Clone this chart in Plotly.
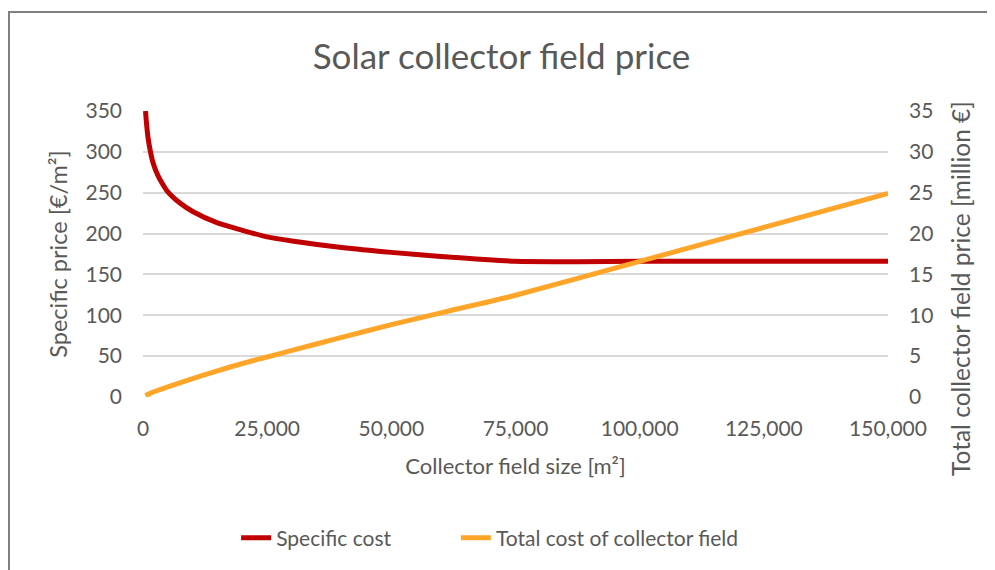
import plotly.graph_objects as go

# collector field size [m²]
size_specific = [500, 750, 1000, 1500, 2000, 3000, 4000, 5000, 7500, 10000, 15000, 20000,
                 25000, 30000, 40000, 50000, 60000, 75000, 100000, 125000, 150000]
specific_cost = [350, 332, 318, 300, 287, 271, 260, 251, 237, 227, 213, 204,
                 196, 191, 183, 177, 172, 166, 166, 166, 166]

size_total = [500, 1000, 2500, 5000, 10000, 15000, 20000, 25000, 30000, 40000, 50000,
              60000, 75000, 100000, 125000, 150000]
total_cost = [0.17, 0.32, 0.7, 1.25, 2.26, 3.2, 4.1, 4.9, 5.7, 7.3, 8.85,
              10.3, 12.45, 16.6, 20.75, 24.9]

x_ticks = [0, 25000, 50000, 75000, 100000, 125000, 150000]

FONT = "Lato"
GREY = "#595959"

fig = go.Figure()
fig.add_trace(go.Scatter(x=size_specific, y=specific_cost, name="Specific cost", mode="lines",
                         legend="legend", showlegend=True,
                         line=dict(color="#C00000", width=5, shape="spline", smoothing=0.6)))
fig.add_trace(go.Scatter(x=size_total, y=total_cost, name="Total cost of collector field",
                         mode="lines", yaxis="y2", legend="legend2", showlegend=True,
                         line=dict(color="#FFA52A", width=5, shape="spline", smoothing=0.6)))

fig.update_layout(
    width=987, height=562,
    showlegend=True,
    margin=dict(l=135, r=107, t=103, b=173),
    paper_bgcolor="white", plot_bgcolor="white",
    font=dict(family=FONT, color=GREY, size=21),
    title=dict(text="Solar collector field price", x=0.5, xanchor="center",
               y=1 - 49 / 562, yanchor="middle", font=dict(size=35, color=GREY)),
    xaxis=dict(range=[0, 150000], tickvals=x_ticks, tickformat=",", showgrid=False,
               zeroline=False, showline=False, ticks="", automargin=False,
               ticklabelstandoff=17,
               title=dict(text="Collector field size [m²]", standoff=19, font=dict(size=22))),
    yaxis=dict(range=[0, 350], dtick=50, gridcolor="#D9D9D9", gridwidth=1.5,
               zeroline=False, ticks="", ticklabelstandoff=20, automargin=False,
               title=dict(text="Specific price [€/m²]", standoff=11, font=dict(size=23.5))),
    yaxis2=dict(range=[0, 35], dtick=5, overlaying="y", side="right", showgrid=False,
                zeroline=False, ticks="", ticklabelstandoff=20, automargin=False),
    legend=dict(orientation="h", x=0.125, xanchor="left", y=-0.493, yanchor="middle",
                font=dict(size=21, color=GREY)),
    legend2=dict(orientation="h", x=0.42, xanchor="left", y=-0.493, yanchor="middle",
                 font=dict(size=21, color=GREY)),
    annotations=[dict(text="Total collector field price [million €]", textangle=-90,
                      xref="paper", yref="paper", x=(952 - 135) / 745, y=(389 - 281) / 286,
                      xanchor="center", yanchor="middle", showarrow=False,
                      font=dict(size=24.5, color=GREY))],
    shapes=[dict(type="rect", xref="paper", yref="paper",
                 x0=(1 - 135) / 745, x1=(1000 - 135) / 745,
                 y0=(389 - 580) / 286, y1=(389 - 4) / 286,
                 line=dict(color="#808080", width=2), layer="below")],
)

fig.write_html("out.html")
